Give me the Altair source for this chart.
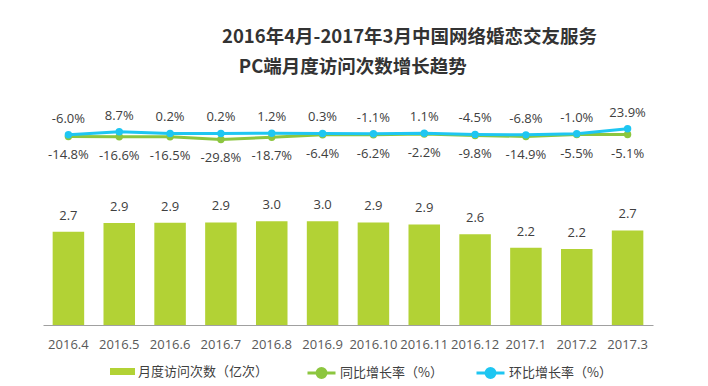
import altair as alt
import pandas as pd

months = ["2016.4", "2016.5", "2016.6", "2016.7", "2016.8", "2016.9",
          "2016.10", "2016.11", "2016.12", "2017.1", "2017.2", "2017.3"]
visits = [2.67, 2.92, 2.93, 2.94, 2.97, 2.97, 2.94, 2.88, 2.60, 2.21, 2.18, 2.71]
yoy = [-14.8, -16.6, -16.5, -29.8, -18.7, -6.4, -6.2, -2.2, -9.8, -14.9, -5.5, -5.1]
mom = [-6.0, 8.7, 0.2, 0.2, 1.2, 0.3, -1.1, 1.1, -4.5, -6.8, -1.0, 23.9]

bar_name = "月度访问次数（亿次）"
yoy_name = "同比增长率（%）"
mom_name = "环比增长率（%）"
line_names = [yoy_name, mom_name]

BAR_COLOR = "#b2d235"
GREEN = "#8cc63f"
BLUE = "#1ec6f2"
TEXT = "#404040"
NUM_FONT = "Open Sans"
CJK_FONT = "Noto Sans CJK SC"

df = pd.DataFrame({"month": months, "visits": visits, "yoy": yoy, "mom": mom})
df["bar_series"] = bar_name

base = alt.Chart(df)

x_enc = alt.X(
    "month:N", sort=months, title=None,
    scale=alt.Scale(paddingInner=0.38, paddingOuter=0.19),
    axis=alt.Axis(labelAngle=0, labelOverlap=False, ticks=False, domain=True,
                  domainColor="#a0a0a0", domainWidth=1, labelFontSize=13,
                  labelFont=NUM_FONT, labelColor="#595959", labelPadding=13,
                  grid=False),
)

bar_y = alt.Y("visits:Q", scale=alt.Scale(domain=[0, 6.59], nice=False), axis=None)

bars = base.mark_bar(color=BAR_COLOR).encode(
    x=x_enc,
    y=bar_y,
    color=alt.Color(
        "bar_series:N",
        scale=alt.Scale(domain=[bar_name], range=[BAR_COLOR]),
        legend=alt.Legend(
            orient="none", legendX=67, legendY=264, title=None,
            symbolType="M-1,-0.28H1V0.28H-1Z", symbolSize=625,
            symbolStrokeWidth=0, labelFontSize=13, labelFont=CJK_FONT,
            labelColor=TEXT, labelOffset=3, padding=0, labelLimit=300,
        ),
    ),
)
bar_text = base.mark_text(
    dy=-16, baseline="middle", fontSize=13, font=NUM_FONT, color=TEXT
).encode(
    x=alt.X("month:N", sort=months),
    y=bar_y,
    text=alt.Text("visits:Q", format=".1f"),
)
bar_layer = alt.layer(bars, bar_text)

line_scale = alt.Scale(domain=[-957.5, 192.5], nice=False, zero=False)
legend_path = ("M-1,0H1M0.32,0A0.32,0.32,0,1,1,-0.32,0"
               "A0.32,0.32,0,1,1,0.32,0Z")
line_legend = alt.Legend(
    orient="none", direction="horizontal", legendX=263, legendY=262.5,
    title=None, symbolType=legend_path, symbolSize=784, symbolStrokeWidth=3,
    labelFontSize=13, labelFont=CJK_FONT, labelColor=TEXT, labelOffset=3,
    columnPadding=27, padding=0, labelLimit=300,
)

folded = base.transform_fold(["yoy", "mom"], as_=["key", "value"]).transform_calculate(
    series="datum.key == 'yoy' ? '" + yoy_name + "' : '" + mom_name + "'"
)

lines = folded.mark_line(strokeWidth=3).encode(
    x=alt.X("month:N", sort=months),
    y=alt.Y("value:Q", scale=line_scale, axis=None),
    stroke=alt.Stroke("series:N", sort=line_names,
                      scale=alt.Scale(domain=line_names, range=[GREEN, BLUE]),
                      legend=line_legend),
)
points = folded.mark_circle(size=55, opacity=1).encode(
    x=alt.X("month:N", sort=months),
    y=alt.Y("value:Q", scale=line_scale, axis=None),
    fill=alt.Fill("series:N", sort=line_names,
                  scale=alt.Scale(domain=line_names, range=[GREEN, BLUE]),
                  legend=line_legend),
)

yoy_text = base.transform_calculate(
    lbl="replace(format(datum.yoy, '.1f'), '\u2212', '-') + '%'"
).mark_text(dy=19, baseline="middle", fontSize=13, font=NUM_FONT, color=TEXT).encode(
    x=alt.X("month:N", sort=months),
    y=alt.Y("yoy:Q", scale=line_scale, axis=None),
    text="lbl:N",
)
mom_text = base.transform_calculate(
    lbl="replace(format(datum.mom, '.1f'), '\u2212', '-') + '%'"
).mark_text(dy=-16, baseline="middle", fontSize=13, font=NUM_FONT, color=TEXT).encode(
    x=alt.X("month:N", sort=months),
    y=alt.Y("mom:Q", scale=line_scale, axis=None),
    text="lbl:N",
)
line_layer = alt.layer(lines, points, yoy_text, mom_text)

chart = alt.layer(bar_layer, line_layer).resolve_scale(
    y="independent"
).properties(
    width=610,
    height=230,
    autosize=alt.AutoSizeParams(type="none"),
    padding={"left": 35, "top": 87, "right": 47, "bottom": 61},
    title=alt.TitleParams(
        text="2016年4月-2017年3月中国网络婚恋交友服务",
        subtitle="\u200b\u00a0\u00a0\u00a0\u00a0PC端月度访问次数增长趋势",
        anchor="start", frame="group", dx=179, offset=19,
        font=CJK_FONT, subtitleFont=CJK_FONT,
        fontSize=18.5, subtitleFontSize=18.5,
        fontWeight="bold", subtitleFontWeight="bold",
        color="#333333", subtitleColor="#333333", subtitlePadding=11,
    ),
).configure_view(stroke=None)

chart.save("out.html", embed_options={"renderer": "svg", "actions": False})
